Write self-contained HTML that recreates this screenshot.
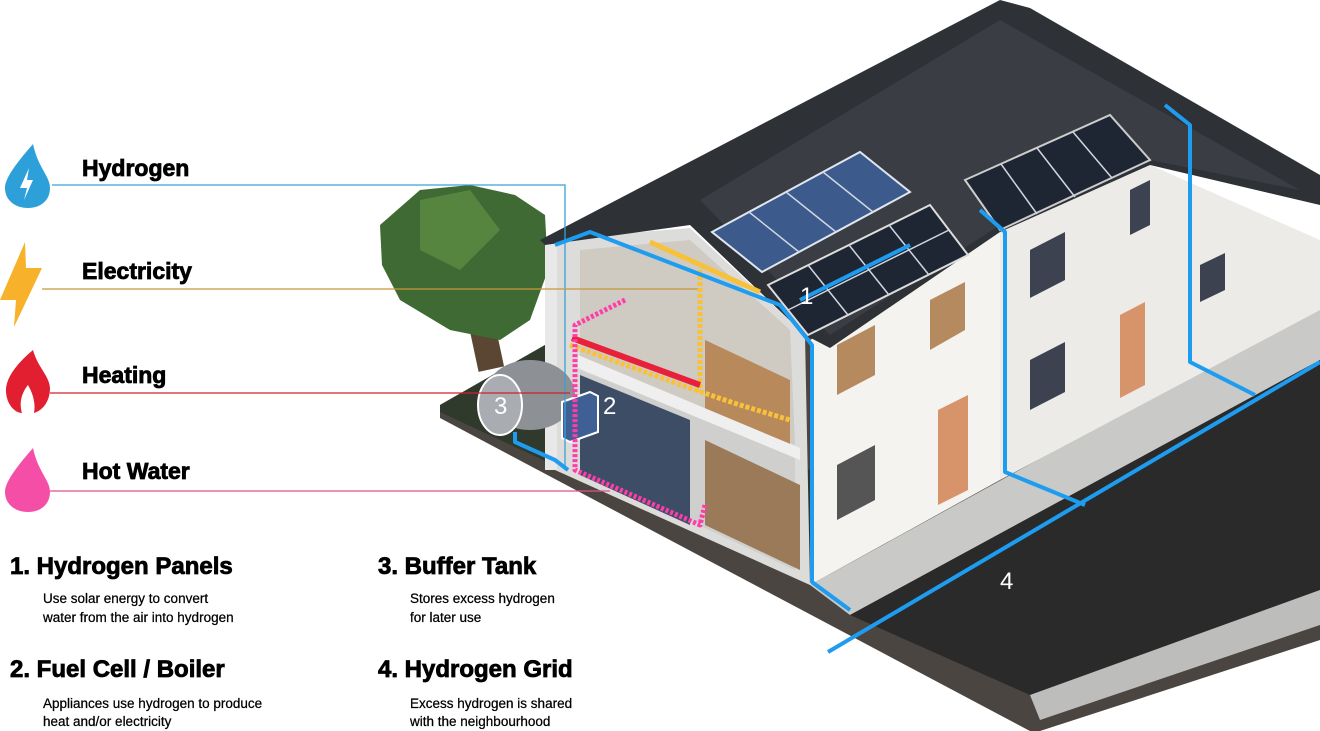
<!DOCTYPE html>
<html><head><meta charset="utf-8"><style>
html,body{margin:0;padding:0;background:#fff;}
svg{display:block;}
.t{font-family:"Liberation Sans",sans-serif;font-weight:bold;fill:#000;stroke:#000;stroke-width:0.8;}
.d{font-family:"Liberation Sans",sans-serif;font-size:13.5px;fill:#000;stroke:#000;stroke-width:0.25;}
.n{font-family:"Liberation Sans",sans-serif;font-size:24px;fill:#fff;}
</style></head><body>
<svg width="1320" height="731" viewBox="0 0 1320 731" xmlns="http://www.w3.org/2000/svg">
<!-- ground slab -->
<polygon points="440,405 545,345 1320,290 1320,640 1040,731 1030,731 440,418" fill="#4a4540"/>
<polygon points="440,405 545,345 810,470 810,585 440,412" fill="#2f3a2c"/>
<!-- sidewalk -->
<polygon points="810,585 1320,305 1320,360 850,615" fill="#c9c9c7"/>
<!-- road -->
<polygon points="850,615 1320,360 1320,590 1030,695" fill="#2a2a2a"/>
<!-- curb -->
<polygon points="1030,695 1320,590 1320,625 1040,720" fill="#bdbdbb"/>
<!-- tree -->
<rect x="470" y="290" width="26" height="80" fill="#5a4632" transform="rotate(-12 483 330)"/>
<polygon points="380,225 420,190 470,185 515,195 545,215 548,270 530,320 500,340 450,330 400,300 382,265" fill="#3f6a34"/>
<polygon points="420,200 470,190 500,230 460,270 420,250" fill="#55853f"/>
<!-- back wall of second house -->
<polygon points="1000,232 1150,165 1320,240 1320,310 1000,480" fill="#ecebe8"/>
<!-- front wall -->
<polygon points="810,340 1000,232 1000,480 810,585" fill="#f4f3f0"/>
<!-- cutaway interior -->
<polygon points="545,240 690,228 805,335 810,585 555,470" fill="#dcdcda"/>
<polygon points="580,250 690,240 790,330 795,445 580,360" fill="#cfcac2"/>
<polygon points="580,370 795,455 795,570 580,470" fill="#cfcfcd"/>
<polygon points="580,375 690,420 690,525 580,475" fill="#3e4d66"/>
<polygon points="705,440 800,485 800,570 705,525" fill="#9a7a58"/>
<polygon points="705,340 790,380 790,450 705,415" fill="#b8895a"/>
<polygon points="578,355 800,448 800,460 578,368" fill="#efefef"/>
<rect x="545" y="240" width="12" height="230" fill="#e8e8e8"/>
<!-- roof -->
<polygon points="540,240 1000,0 1030,8 1320,175 1320,205 1150,165 1000,232 830,348 805,335 690,225 545,245" fill="#2e3136"/>
<polygon points="700,200 1000,20 1300,190 1150,160 1000,225 830,335" fill="#3a3d43"/>
<!-- windows and doors -->
<polygon points="837,345 875,325 875,375 837,395" fill="#b58a5e"/>
<polygon points="930,300 965,282 965,330 930,350" fill="#b58a5e"/>
<polygon points="837,465 875,445 875,500 837,520" fill="#555"/>
<polygon points="938,410 968,395 968,490 938,505" fill="#d7946a"/>
<polygon points="1030,250 1065,232 1065,280 1030,298" fill="#3d4250"/>
<polygon points="1030,360 1065,342 1065,392 1030,410" fill="#3d4250"/>
<polygon points="1120,315 1145,302 1145,385 1120,398" fill="#d7946a"/>
<polygon points="1130,190 1150,180 1150,225 1130,235" fill="#3d4250"/>
<polygon points="1200,265 1225,253 1225,290 1200,302" fill="#3d4250"/>
<!-- solar panels -->
<polygon points="712,232 860,152 910,192 762,272" fill="#3c5a8c" stroke="#dfe6f0" stroke-width="2"/>
<polygon points="768,285 930,205 968,255 808,335" fill="#1e2633" stroke="#ddd" stroke-width="2"/>
<polygon points="965,180 1110,115 1150,160 1000,230" fill="#1e2633" stroke="#ccc" stroke-width="2"/>
<g stroke="#cfd6e0" stroke-width="1.5">
<line x1="749" y1="212" x2="799" y2="252"/><line x1="786" y1="192" x2="836" y2="232"/><line x1="823" y1="172" x2="873" y2="212"/>
<line x1="808" y1="265" x2="848" y2="315"/><line x1="849" y1="245" x2="889" y2="295"/><line x1="889" y1="225" x2="929" y2="275"/>
<line x1="788" y1="310" x2="949" y2="230"/>
<line x1="1001" y1="164" x2="1037" y2="214"/><line x1="1037" y1="148" x2="1075" y2="197"/><line x1="1073" y1="132" x2="1112" y2="178"/>
</g>
<!-- tank -->
<ellipse cx="530" cy="395" rx="45" ry="35" fill="#8d9196"/>
<ellipse cx="500" cy="405" rx="22" ry="30" fill="#a9adb2" stroke="#fff" stroke-width="2"/>
<text class="n" x="494" y="414">3</text>
<!-- fuel cell -->
<polygon points="562,402 590,392 598,396 598,432 570,442 562,438" fill="#3f5f95" stroke="#fff" stroke-width="2"/>
<text class="n" x="603" y="414">2</text>
<!-- thin legend lines -->
<polyline points="52,185 565,185 565,470" fill="none" stroke="#3aa0d8" stroke-width="1.3"/>
<line x1="42" y1="289" x2="700" y2="289" stroke="#c8963a" stroke-width="1.3"/>
<line x1="50" y1="393" x2="570" y2="393" stroke="#d0202c" stroke-width="1.3"/>
<line x1="50" y1="491" x2="610" y2="491" stroke="#e0508c" stroke-width="1.3"/>
<!-- pipes -->
<g fill="none" stroke-linejoin="round">
<polyline points="650,242 760,292" stroke="#f7c23a" stroke-width="5"/>
<polyline points="700,270 700,392" stroke="#f7c23a" stroke-width="5" stroke-dasharray="4 2"/>
<polyline points="570,345 695,390 740,405 790,420" stroke="#f7c23a" stroke-width="5" stroke-dasharray="4 2"/>
<polyline points="572,338 700,385" stroke="#e8203a" stroke-width="6"/>
<polyline points="625,300 575,325 575,470 700,525 705,505" stroke="#ff3ca8" stroke-width="5" stroke-dasharray="3 2"/>
<polyline points="555,245 590,232 780,305 812,345 812,582 850,610" stroke="#1e9df0" stroke-width="4"/>
<line x1="828" y1="652" x2="1320" y2="362" stroke="#1e9df0" stroke-width="4"/>
<polyline points="980,210 1005,232 1005,472 1085,505" stroke="#1e9df0" stroke-width="4"/>
<polyline points="1165,105 1190,125 1190,362 1255,395" stroke="#1e9df0" stroke-width="4"/>
<line x1="910" y1="245" x2="800" y2="300" stroke="#1e9df0" stroke-width="4"/>
<polyline points="515,432 515,442 555,460 568,470" stroke="#1e9df0" stroke-width="4"/>
</g>
<text class="n" x="800" y="304">1</text>
<text class="n" x="1000" y="589">4</text>
<!-- icons -->
<path d="M33,144 C12,168 5,180 5,188 C5,200 15,208 28,208 C41,208 50,200 50,188 C50,176 38,168 33,144 Z" fill="#2d9fd9"/>
<polygon points="29,168 20,188 27,188 24,200 33,180 27,180" fill="#fff"/>
<polygon points="25,242 0,300 16,300 14,327 42,268 26,268" fill="#f8b12a"/>
<path d="M33,350 C15,365 5,380 6,392 C7,406 16,413 22,413 C18,400 24,390 28,385 C32,392 36,402 34,413 C44,410 50,400 50,388 C49,375 38,368 33,350 Z" fill="#e21f30"/>
<path d="M33,448 C12,472 5,484 5,492 C5,504 15,512 28,512 C41,512 50,504 50,492 C50,480 38,472 33,448 Z" fill="#f54ea6"/>
<!-- legend labels -->
<text class="t" x="82" y="176" font-size="23">Hydrogen</text>
<text class="t" x="82" y="279" font-size="23">Electricity</text>
<text class="t" x="82" y="383" font-size="23">Heating</text>
<text class="t" x="82" y="479" font-size="23">Hot Water</text>
<!-- bottom text -->
<text class="t" x="10" y="574" font-size="24">1. Hydrogen Panels</text>
<text class="d" x="43" y="603">Use solar energy to convert</text>
<text class="d" x="43" y="622">water from the air into hydrogen</text>
<text class="t" x="10" y="677" font-size="24">2. Fuel Cell / Boiler</text>
<text class="d" x="43" y="708">Appliances use hydrogen to produce</text>
<text class="d" x="43" y="726">heat and/or electricity</text>
<text class="t" x="378" y="574" font-size="24">3. Buffer Tank</text>
<text class="d" x="410" y="603">Stores excess hydrogen</text>
<text class="d" x="410" y="622">for later use</text>
<text class="t" x="378" y="677" font-size="24">4. Hydrogen Grid</text>
<text class="d" x="410" y="708">Excess hydrogen is shared</text>
<text class="d" x="410" y="726">with the neighbourhood</text>
</svg>
</body></html>
